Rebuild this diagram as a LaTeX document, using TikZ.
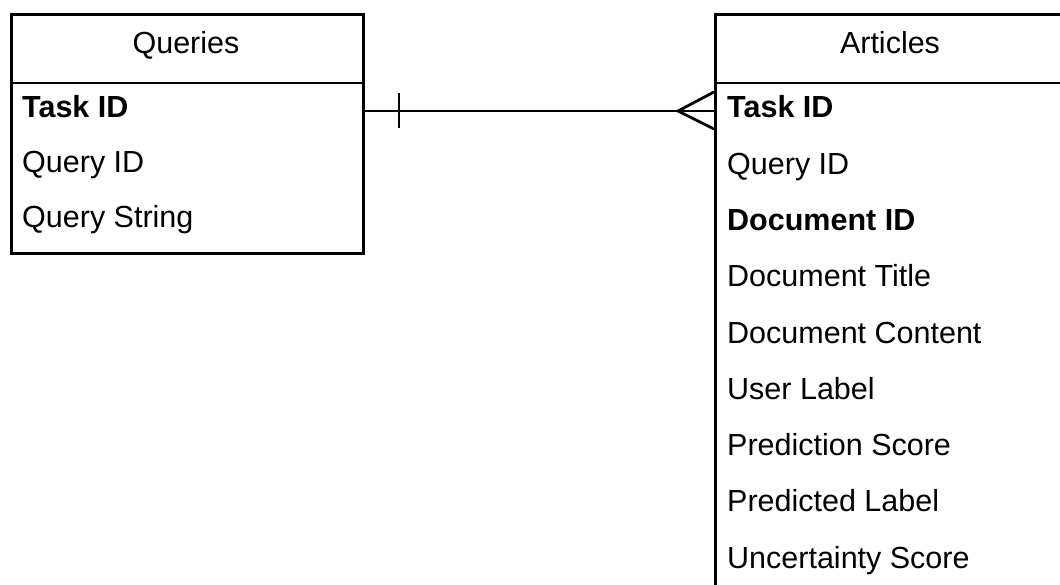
\documentclass[tikz,border=0pt]{standalone}
\usepackage{fontspec}
\setmainfont{Liberation Sans}
\begin{document}
\begin{tikzpicture}[x=1pt,y=-1pt,
  entity/.style={draw, line width=2.8pt, rectangle, inner sep=0pt, anchor=north west},
  divider/.style={line width=2.8pt},
  title/.style={font=\fontsize{30.5}{36}\selectfont, anchor=base, inner sep=0pt},
  field/.style={font=\fontsize{30.5}{36}\selectfont, anchor=base west, inner sep=0pt},
  keyfield/.style={field, font=\fontsize{30.5}{36}\selectfont\bfseries},
  rel/.style={line width=2.8pt}]
\clip (0,0) rectangle (1060,585);

% Queries entity
\node[entity, minimum width=352pt, minimum height=239pt] (queries) at (10,13) {};
\draw[divider] (10,83) -- (362,83);
\node[title] (qtitle) at (186,54) {Queries};
\node[keyfield] (qtask) at (22,118) {Task ID};
\node[field] (qquery) at (22,173) {Query ID};
\node[field] (qstring) at (22,228) {Query String};

% Articles entity (runs past the page edges)
\node[entity, minimum width=352pt, minimum height=620pt] (articles) at (714,13) {};
\draw[divider] (714,83) -- (1070,83);
\node[title] (atitle) at (890,54) {Articles};
\node[keyfield] (atask) at (727,118) {Task ID};
\node[field] (aquery) at (727,174.25) {Query ID};
\node[keyfield] (adoc) at (727,230.5) {Document ID};
\node[field] (atitlef) at (727,286.75) {Document Title};
\node[field] (acontent) at (727,343) {Document Content};
\node[field] (auser) at (727,399.25) {User Label};
\node[field] (ascore) at (727,455.5) {Prediction Score};
\node[field] (apred) at (727,511.75) {Predicted Label};
\node[field] (aunc) at (727,568) {Uncertainty Score};

% One-to-many relationship on Task ID
\coordinate (qend) at (queries.east |- 0,111);
\coordinate (aend) at (articles.west |- 0,111);
\coordinate (tick) at (399,111);
\coordinate (crow) at (678,111);
\draw[rel] (qend) -- (aend);
\draw[rel] ([yshift=-17pt]tick) -- ([yshift=18pt]tick);
\draw[rel] ([yshift=-18pt]aend) -- (crow) -- ([yshift=19pt]aend);
\end{tikzpicture}
\end{document}
